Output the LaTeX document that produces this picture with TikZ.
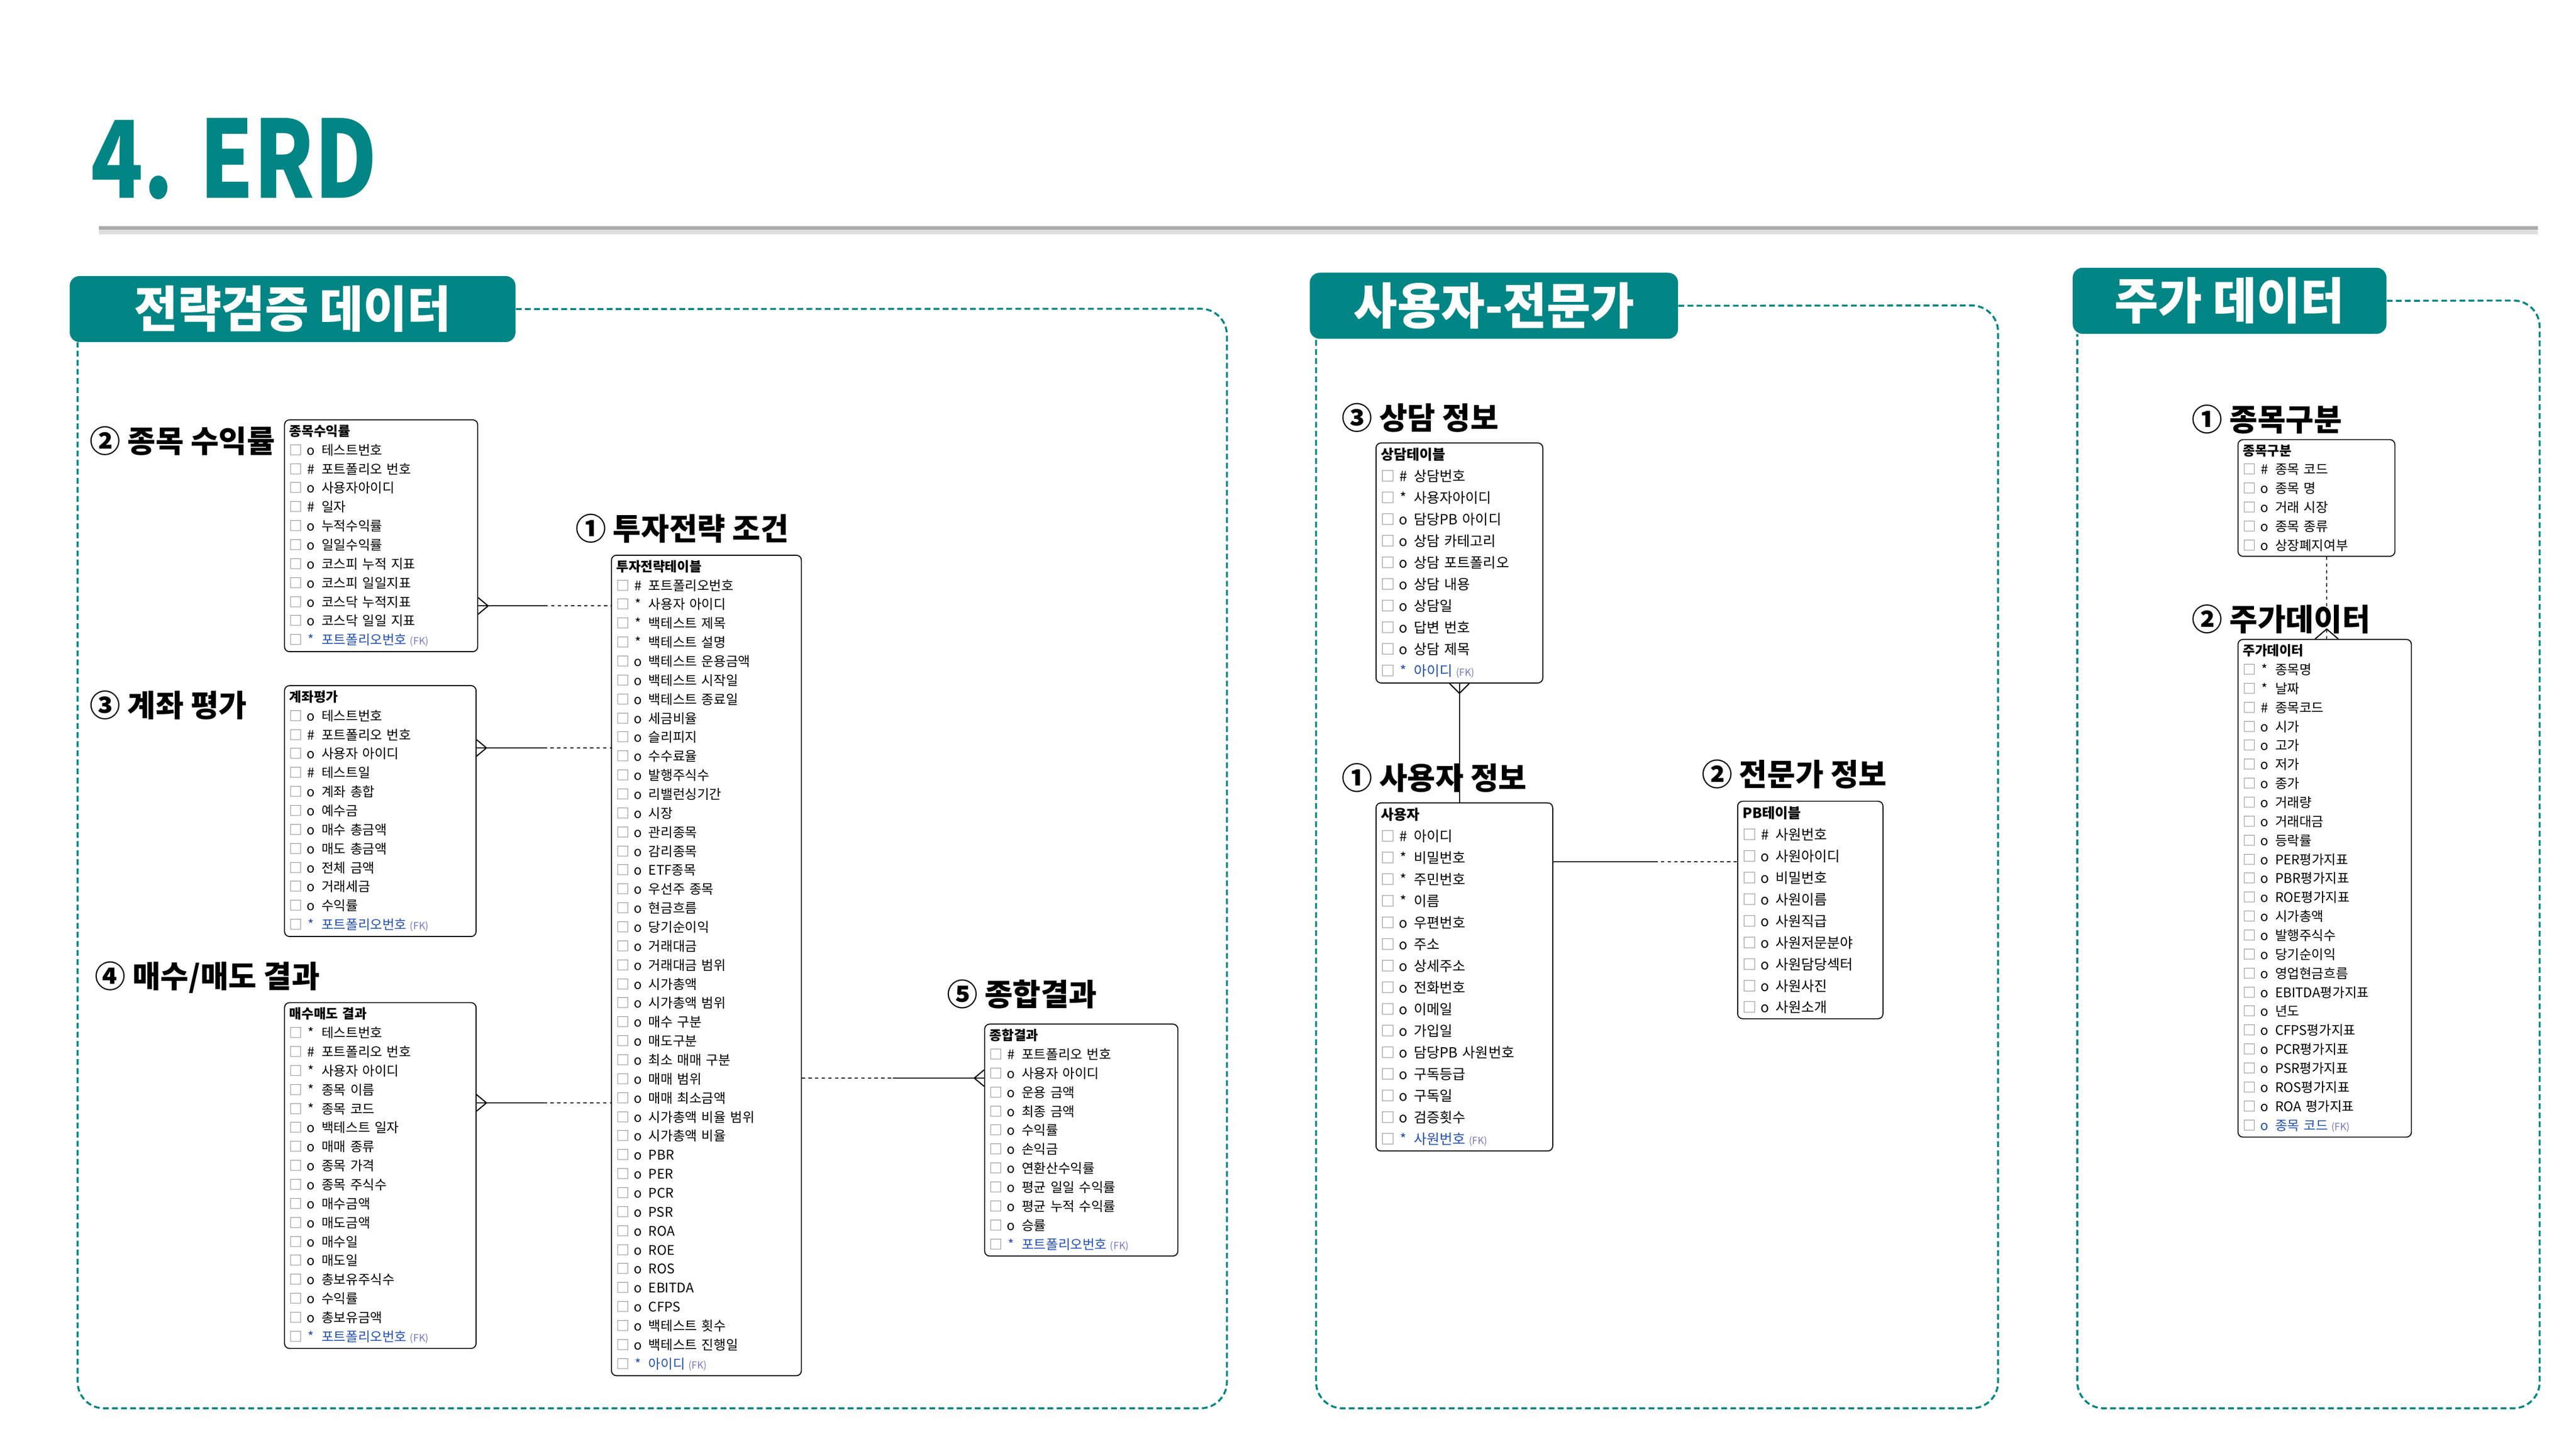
\documentclass[tikz,border=0pt]{standalone}
\usepackage{fontspec}
\usepackage{graphicx}
\setmainfont{Noto Sans CJK KR}
\newfontfamily\tblfont{Noto Sans CJK KR}[WordSpace=2]
\usetikzlibrary{positioning,calc}
\definecolor{teal1}{RGB}{2,133,133}
\definecolor{fkblue}{RGB}{35,80,185}
\definecolor{fktag}{RGB}{120,120,205}
\definecolor{sqgray}{RGB}{125,125,125}
% one attribute row of an entity
\newcommand{\erow}[2]{\textcolor{sqgray}{□}\makebox[10pt][c]{#1}\hspace{1.5pt}#2}
\newcommand{\efk}[2]{\textcolor{sqgray}{□}\makebox[10pt][c]{\textcolor{fkblue}{#1}}\hspace{1.5pt}\textcolor{fkblue}{#2}\hspace{2pt}{\fontsize{6}{6}\selectfont\textcolor{fktag}{(FK)}}}
\begin{document}
\begin{tikzpicture}[x=1pt, y=-1pt,
  tbl/.style={draw, line width=0.6pt, rounded corners=3pt, anchor=north west, align=left, inner sep=3pt, font=\tblfont\fontsize{8}{11.5}\selectfont, text width=#1},
  tblw/.style={tbl=#1, font=\tblfont\fontsize{8.5}{13.1}\selectfont},
  lbl/.style={anchor=west, font=\bfseries\fontsize{18.5}{18.5}\selectfont},
  grptab/.style={fill=teal1, rounded corners=6pt, text=white, font=\bfseries\fontsize{30}{30}\selectfont, minimum height=40pt, minimum width=#1, anchor=north west, inner sep=0pt},
  frame/.style={draw=teal1, line width=1.2pt, dash pattern=on 3.5pt off 2pt, rounded corners=16pt},
  rel/.style={line width=0.7pt},
  opt/.style={rel, dash pattern=on 2pt off 2pt}]
\useasboundingbox (0,0) rectangle (1560,877.6);

% title
\node[anchor=base west, inner sep=0pt, text=teal1, font=\bfseries\fontsize{65}{65}\selectfont] (title) at (55,120) {\scalebox{0.8}[1]{4. ERD}};
\draw[line width=4pt, gray!25] (60,140) -- (1537,140);
\draw[line width=2pt, gray!65] (60,138) -- (1537,138);

% groups
\node[grptab=270pt] (tab1) at (42,167) {\scalebox{0.96}[1]{전략검증 데이터}};
\node[grptab=223pt] (tab2) at (793,165) {\scalebox{0.96}[1]{사용자-전문가}};
\node[grptab=190pt] (tab3) at (1255,162) {\scalebox{0.96}[1]{주가 데이터}};
\draw[frame] (tab1.east) -- (743,187) -- (743,853) -- (47,853) -- (47,0 |- tab1.south);
\draw[frame] (tab2.east) -- (1210,185) -- (1210,853) -- (797,853) -- (797,0 |- tab2.south);
\draw[frame] (tab3.east) -- (1538,182) -- (1538,853) -- (1258,853) -- (1258,0 |- tab3.south);

% section labels
\node[lbl] (l12) at (51,267) {② 종목 수익률};
\node[lbl] (l13) at (51,427) {③ 계좌 평가};
\node[lbl] (l14) at (54,592) {④ 매수/매도 결과};
\node[lbl] (l11) at (345,320) {① 투자전략 조건};
\node[lbl] (l15) at (570,602) {⑤ 종합결과};
\node[lbl] (l23) at (809,253) {③ 상담 정보};
\node[lbl] (l21) at (809,471) {① 사용자 정보};
\node[lbl] (l22) at (1027,469) {② 전문가 정보};
\node[lbl] (l31) at (1324,254) {① 종목구분};
\node[lbl] (l32) at (1324,375) {② 주가데이터};

% entities
\node[tbl=111pt] (stockret) at (172,254) {\textbf{종목수익률}\\
\erow{o}{테스트번호}\\ \erow{\#}{포트폴리오 번호}\\ \erow{o}{사용자아이디}\\ \erow{\#}{일자}\\
\erow{o}{누적수익률}\\ \erow{o}{일일수익률}\\ \erow{o}{코스피 누적 지표}\\ \erow{o}{코스피 일일지표}\\
\erow{o}{코스닥 누적지표}\\ \erow{o}{코스닥 일일 지표}\\ \efk{*}{포트폴리오번호}};

\node[tbl=110pt] (acct) at (172,415) {\textbf{계좌평가}\\
\erow{o}{테스트번호}\\ \erow{\#}{포트폴리오 번호}\\ \erow{o}{사용자 아이디}\\ \erow{\#}{테스트일}\\
\erow{o}{계좌 총합}\\ \erow{o}{예수금}\\ \erow{o}{매수 총금액}\\ \erow{o}{매도 총금액}\\
\erow{o}{전체 금액}\\ \erow{o}{거래세금}\\ \erow{o}{수익률}\\ \efk{*}{포트폴리오번호}};

\node[tbl=110pt] (trade) at (172,607) {\textbf{매수매도 결과}\\
\erow{*}{테스트번호}\\ \erow{\#}{포트폴리오 번호}\\ \erow{*}{사용자 아이디}\\ \erow{*}{종목 이름}\\
\erow{*}{종목 코드}\\ \erow{o}{백테스트 일자}\\ \erow{o}{매매 종류}\\ \erow{o}{종목 가격}\\
\erow{o}{종목 주식수}\\ \erow{o}{매수금액}\\ \erow{o}{매도금액}\\ \erow{o}{매수일}\\
\erow{o}{매도일}\\ \erow{o}{총보유주식수}\\ \erow{o}{수익률}\\ \erow{o}{총보유금액}\\
\efk{*}{포트폴리오번호}};

\node[tbl=109pt] (strategy) at (370,336) {\textbf{투자전략테이블}\\
\erow{\#}{포트폴리오번호}\\ \erow{*}{사용자 아이디}\\ \erow{*}{백테스트 제목}\\ \erow{*}{백테스트 설명}\\
\erow{o}{백테스트 운용금액}\\ \erow{o}{백테스트 시작일}\\ \erow{o}{백테스트 종료일}\\ \erow{o}{세금비율}\\
\erow{o}{슬리피지}\\ \erow{o}{수수료율}\\ \erow{o}{발행주식수}\\ \erow{o}{리밸런싱기간}\\
\erow{o}{시장}\\ \erow{o}{관리종목}\\ \erow{o}{감리종목}\\ \erow{o}{ETF종목}\\
\erow{o}{우선주 종목}\\ \erow{o}{현금흐름}\\ \erow{o}{당기순이익}\\ \erow{o}{거래대금}\\
\erow{o}{거래대금 범위}\\ \erow{o}{시가총액}\\ \erow{o}{시가총액 범위}\\ \erow{o}{매수 구분}\\
\erow{o}{매도구분}\\ \erow{o}{최소 매매 구분}\\ \erow{o}{매매 범위}\\ \erow{o}{매매 최소금액}\\
\erow{o}{시가총액 비율 범위}\\ \erow{o}{시가총액 비율}\\ \erow{o}{PBR}\\ \erow{o}{PER}\\
\erow{o}{PCR}\\ \erow{o}{PSR}\\ \erow{o}{ROA}\\ \erow{o}{ROE}\\
\erow{o}{ROS}\\ \erow{o}{EBITDA}\\ \erow{o}{CFPS}\\ \erow{o}{백테스트 횟수}\\
\erow{o}{백테스트 진행일}\\ \efk{*}{아이디}};

\node[tbl=111pt] (summary) at (596,620) {\textbf{종합결과}\\
\erow{\#}{포트폴리오 번호}\\ \erow{o}{사용자 아이디}\\ \erow{o}{운용 금액}\\ \erow{o}{최종 금액}\\
\erow{o}{수익률}\\ \erow{o}{손익금}\\ \erow{o}{연환산수익률}\\ \erow{o}{평균 일일 수익률}\\
\erow{o}{평균 누적 수익률}\\ \erow{o}{승률}\\ \efk{*}{포트폴리오번호}};

\node[tblw=95pt] (consult) at (833,268) {\textbf{상담테이블}\\
\erow{\#}{상담번호}\\ \erow{*}{사용자아이디}\\ \erow{o}{담당PB 아이디}\\ \erow{o}{상담 카테고리}\\
\erow{o}{상담 포트폴리오}\\ \erow{o}{상담 내용}\\ \erow{o}{상담일}\\ \erow{o}{답변 번호}\\
\erow{o}{상담 제목}\\ \efk{*}{아이디}};

\node[tblw=101pt] (user) at (833,486) {\textbf{사용자}\\
\erow{\#}{아이디}\\ \erow{*}{비밀번호}\\ \erow{*}{주민번호}\\ \erow{*}{이름}\\
\erow{o}{우편번호}\\ \erow{o}{주소}\\ \erow{o}{상세주소}\\ \erow{o}{전화번호}\\
\erow{o}{이메일}\\ \erow{o}{가입일}\\ \erow{o}{담당PB 사원번호}\\ \erow{o}{구독등급}\\
\erow{o}{구독일}\\ \erow{o}{검증횟수}\\ \efk{*}{사원번호}};

\node[tblw=82pt] (pb) at (1052,485) {\textbf{PB테이블}\\
\erow{\#}{사원번호}\\ \erow{o}{사원아이디}\\ \erow{o}{비밀번호}\\ \erow{o}{사원이름}\\
\erow{o}{사원직급}\\ \erow{o}{사원저문분야}\\ \erow{o}{사원담당섹터}\\ \erow{o}{사원사진}\\
\erow{o}{사원소개}};

\node[tbl=89pt] (stockcls) at (1355,266) {\textbf{종목구분}\\
\erow{\#}{종목 코드}\\ \erow{o}{종목 명}\\ \erow{o}{거래 시장}\\ \erow{o}{종목 종류}\\
\erow{o}{상장폐지여부}};

\node[tbl=99pt] (price) at (1355,387) {\textbf{주가데이터}\\
\erow{*}{종목명}\\ \erow{*}{날짜}\\ \erow{\#}{종목코드}\\ \erow{o}{시가}\\
\erow{o}{고가}\\ \erow{o}{저가}\\ \erow{o}{종가}\\ \erow{o}{거래량}\\
\erow{o}{거래대금}\\ \erow{o}{등락률}\\ \erow{o}{PER평가지표}\\ \erow{o}{PBR평가지표}\\
\erow{o}{ROE평가지표}\\ \erow{o}{시가총액}\\ \erow{o}{발행주식수}\\ \erow{o}{당기순이익}\\
\erow{o}{영업현금흐름}\\ \erow{o}{EBITDA평가지표}\\ \erow{o}{년도}\\ \erow{o}{CFPS평가지표}\\
\erow{o}{PCR평가지표}\\ \erow{o}{PSR평가지표}\\ \erow{o}{ROS평가지표}\\ \erow{o}{ROA 평가지표}\\
\efk{o}{종목 코드}};

% relations to the strategy table
\foreach \t/\y in {stockret/367, acct/453, trade/668} {
  \coordinate (s\t) at (\t.east |- 0,\y);
  \coordinate (e\t) at (strategy.west |- 0,\y);
  \coordinate (m\t) at ($(s\t)!0.5!(e\t)$);
  \draw[rel] (s\t) -- (m\t);
  \draw[opt] (m\t) -- (e\t);
  \draw[rel] ([yshift=5pt]s\t) -- ([xshift=6pt]s\t) -- ([yshift=-5pt]s\t);
}
\coordinate (sres) at (strategy.east |- 0,653);
\coordinate (eres) at (summary.west |- 0,653);
\coordinate (mres) at ($(sres)!0.5!(eres)$);
\draw[opt] (sres) -- (mres);
\draw[rel] (mres) -- (eres);
\draw[rel] ([yshift=5pt]eres) -- ([xshift=-6pt]eres) -- ([yshift=-5pt]eres);

% consult - user - pb
\draw[rel] (consult.south) -- (consult.south |- user.north);
\draw[rel] ([xshift=-6pt]consult.south) -- ([yshift=-6pt]consult.south) -- ([xshift=6pt]consult.south);
\coordinate (suser) at (user.east |- 0,522);
\coordinate (epb) at (pb.west |- 0,522);
\coordinate (mpb) at ($(suser)!0.55!(epb)$);
\draw[rel] (suser) -- (mpb);
\draw[opt] (mpb) -- (epb);

% stock class - price
\coordinate (scls) at (stockcls.south -| 1409,0);
\coordinate (eprc) at (price.north -| 1409,0);
\draw[opt] (scls) -- (eprc);
\draw[rel] ([xshift=-7pt]eprc) -- ([yshift=6pt]eprc) -- ([xshift=7pt]eprc);
\end{tikzpicture}
\end{document}
